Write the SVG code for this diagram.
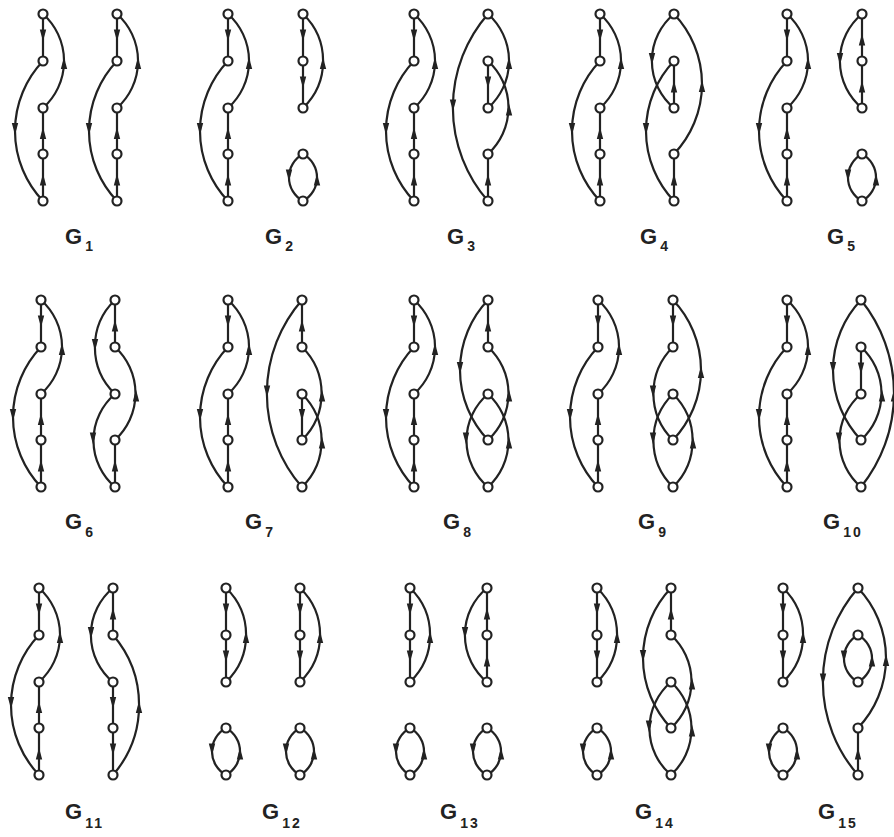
<svg xmlns="http://www.w3.org/2000/svg" width="894" height="837" viewBox="0 0 894 837">
<style>
.c{fill:none;stroke:#222;stroke-width:2.2}
.ah{fill:#222;stroke:none}
circle{fill:#fff;stroke:#222;stroke-width:2.2}
.lb{font-family:"Liberation Sans",Arial,sans-serif;font-weight:bold;font-size:22px;fill:#222}
.sb{font-size:14px;letter-spacing:2px}
</style>
<defs>
<path id="d" class="ah" d="M0,4L-3.2,-8H3.2Z"/>
<path id="u" class="ah" d="M0,-4L-3.2,8H3.2Z"/>
</defs>
<rect width="894" height="837" fill="#fff"/>

<!-- G1 -->
<g id="G1">
<g id="G1-edges" class="c">
<g transform="translate(43,14)"><path d="M0,0V47M0,94V187"/><path d="M0,0A63,63 0 0 1 0,94"/><path d="M0,47A101.5,101.5 0 0 0 0,187"/><use href="#d" y="23.5"/><use href="#u" y="117"/><use href="#u" y="163.5"/><use href="#u" x="21" y="47"/><use href="#d" x="-28" y="117"/></g>
<g transform="translate(117,14)"><path d="M0,0V47M0,94V187"/><path d="M0,0A63,63 0 0 1 0,94"/><path d="M0,47A101.5,101.5 0 0 0 0,187"/><use href="#d" y="23.5"/><use href="#u" y="117"/><use href="#u" y="163.5"/><use href="#u" x="21" y="47"/><use href="#d" x="-28" y="117"/></g>
</g>
<g id="G1-nodes">
<g transform="translate(43,14)"><g id="n1a0"><circle r="4.5"/></g><g id="n1a1"><circle cy="47" r="4.5"/></g><g id="n1a2"><circle cy="94" r="4.5"/></g><g id="n1a3"><circle cy="140" r="4.5"/></g><g id="n1a4"><circle cy="187" r="4.5"/></g></g>
<g transform="translate(117,14)"><g id="n1b0"><circle r="4.5"/></g><g id="n1b1"><circle cy="47" r="4.5"/></g><g id="n1b2"><circle cy="94" r="4.5"/></g><g id="n1b3"><circle cy="140" r="4.5"/></g><g id="n1b4"><circle cy="187" r="4.5"/></g></g>
</g>
<text class="lb" x="65" y="244">G<tspan class="sb" dx="3" dy="7">1</tspan></text>
</g>

<!-- G2 -->
<g id="G2">
<g id="G2-edges" class="c">
<g transform="translate(228,14)"><path d="M0,0V47M0,94V187"/><path d="M0,0A63,63 0 0 1 0,94"/><path d="M0,47A101.5,101.5 0 0 0 0,187"/><use href="#d" y="23.5"/><use href="#u" y="117"/><use href="#u" y="163.5"/><use href="#u" x="21" y="47"/><use href="#d" x="-28" y="117"/></g>
<g transform="translate(303,14)"><path d="M0,0V94"/><path d="M0,0A65,65 0 0 1 0,94"/><path d="M0,140A26.7,26.7 0 0 0 0,187A26.7,26.7 0 0 0 0,140Z"/><use href="#d" y="23.5"/><use href="#d" y="70.5"/><use href="#u" x="20" y="47"/><use href="#d" x="-14" y="163.5"/><use href="#u" x="14" y="163.5"/></g>
</g>
<g id="G2-nodes">
<g transform="translate(228,14)"><g id="n2a0"><circle r="4.5"/></g><g id="n2a1"><circle cy="47" r="4.5"/></g><g id="n2a2"><circle cy="94" r="4.5"/></g><g id="n2a3"><circle cy="140" r="4.5"/></g><g id="n2a4"><circle cy="187" r="4.5"/></g></g>
<g transform="translate(303,14)"><g id="n2b0"><circle r="4.5"/></g><g id="n2b1"><circle cy="47" r="4.5"/></g><g id="n2b2"><circle cy="94" r="4.5"/></g><g id="n2b3"><circle cy="140" r="4.5"/></g><g id="n2b4"><circle cy="187" r="4.5"/></g></g>
</g>
<text class="lb" x="265" y="244">G<tspan class="sb" dx="3" dy="7">2</tspan></text>
</g>

<!-- G3 -->
<g id="G3">
<g id="G3-edges" class="c">
<g transform="translate(414,14)"><path d="M0,0V47M0,94V187"/><path d="M0,0A63,63 0 0 1 0,94"/><path d="M0,47A101.5,101.5 0 0 0 0,187"/><use href="#d" y="23.5"/><use href="#u" y="117"/><use href="#u" y="163.5"/><use href="#u" x="21" y="47"/><use href="#d" x="-28" y="117"/></g>
<g transform="translate(488,14)"><path d="M0,47V94M0,140V187"/><path d="M0,0A142,142 0 0 0 0,187"/><path d="M0,0A63,63 0 0 1 0,94"/><path d="M0,47A63,63 0 0 1 0,140"/><use href="#d" x="-35" y="93.5"/><use href="#d" y="70.5"/><use href="#u" y="163.5"/><use href="#u" x="21" y="47"/><use href="#u" x="21" y="93.5"/></g>
</g>
<g id="G3-nodes">
<g transform="translate(414,14)"><g id="n3a0"><circle r="4.5"/></g><g id="n3a1"><circle cy="47" r="4.5"/></g><g id="n3a2"><circle cy="94" r="4.5"/></g><g id="n3a3"><circle cy="140" r="4.5"/></g><g id="n3a4"><circle cy="187" r="4.5"/></g></g>
<g transform="translate(488,14)"><g id="n3b0"><circle r="4.5"/></g><g id="n3b1"><circle cy="47" r="4.5"/></g><g id="n3b2"><circle cy="94" r="4.5"/></g><g id="n3b3"><circle cy="140" r="4.5"/></g><g id="n3b4"><circle cy="187" r="4.5"/></g></g>
</g>
<text class="lb" x="447" y="244">G<tspan class="sb" dx="3" dy="7">3</tspan></text>
</g>

<!-- G4 -->
<g id="G4">
<g id="G4-edges" class="c">
<g transform="translate(600,14)"><path d="M0,0V47M0,94V187"/><path d="M0,0A63,63 0 0 1 0,94"/><path d="M0,47A101.5,101.5 0 0 0 0,187"/><use href="#d" y="23.5"/><use href="#u" y="117"/><use href="#u" y="163.5"/><use href="#u" x="21" y="47"/><use href="#d" x="-28" y="117"/></g>
<g transform="translate(674,14)"><path d="M0,47V94M0,140V187"/><path d="M0,0A61,61 0 0 0 0,94"/><path d="M0,47A101.5,101.5 0 0 0 0,187"/><path d="M0,0A101.5,101.5 0 0 1 0,140"/><use href="#d" x="-22" y="47"/><use href="#u" y="70.5"/><use href="#d" x="-28" y="117"/><use href="#u" y="163.5"/><use href="#u" x="28" y="70"/></g>
</g>
<g id="G4-nodes">
<g transform="translate(600,14)"><g id="n4a0"><circle r="4.5"/></g><g id="n4a1"><circle cy="47" r="4.5"/></g><g id="n4a2"><circle cy="94" r="4.5"/></g><g id="n4a3"><circle cy="140" r="4.5"/></g><g id="n4a4"><circle cy="187" r="4.5"/></g></g>
<g transform="translate(674,14)"><g id="n4b0"><circle r="4.5"/></g><g id="n4b1"><circle cy="47" r="4.5"/></g><g id="n4b2"><circle cy="94" r="4.5"/></g><g id="n4b3"><circle cy="140" r="4.5"/></g><g id="n4b4"><circle cy="187" r="4.5"/></g></g>
</g>
<text class="lb" x="640" y="244">G<tspan class="sb" dx="3" dy="7">4</tspan></text>
</g>

<!-- G5 -->
<g id="G5">
<g id="G5-edges" class="c">
<g transform="translate(787,14)"><path d="M0,0V47M0,94V187"/><path d="M0,0A63,63 0 0 1 0,94"/><path d="M0,47A101.5,101.5 0 0 0 0,187"/><use href="#d" y="23.5"/><use href="#u" y="117"/><use href="#u" y="163.5"/><use href="#u" x="21" y="47"/><use href="#d" x="-28" y="117"/></g>
<g transform="translate(862,14)"><path d="M0,0V94"/><path d="M0,0A61,61 0 0 0 0,94"/><path d="M0,140A26.7,26.7 0 0 0 0,187A26.7,26.7 0 0 0 0,140Z"/><use href="#u" y="23.5"/><use href="#u" y="70.5"/><use href="#d" x="-22" y="47"/><use href="#d" x="-14" y="163.5"/><use href="#u" x="14" y="163.5"/></g>
</g>
<g id="G5-nodes">
<g transform="translate(787,14)"><g id="n5a0"><circle r="4.5"/></g><g id="n5a1"><circle cy="47" r="4.5"/></g><g id="n5a2"><circle cy="94" r="4.5"/></g><g id="n5a3"><circle cy="140" r="4.5"/></g><g id="n5a4"><circle cy="187" r="4.5"/></g></g>
<g transform="translate(862,14)"><g id="n5b0"><circle r="4.5"/></g><g id="n5b1"><circle cy="47" r="4.5"/></g><g id="n5b2"><circle cy="94" r="4.5"/></g><g id="n5b3"><circle cy="140" r="4.5"/></g><g id="n5b4"><circle cy="187" r="4.5"/></g></g>
</g>
<text class="lb" x="827" y="244">G<tspan class="sb" dx="3" dy="7">5</tspan></text>
</g>

<!-- G6 -->
<g id="G6">
<g id="G6-edges" class="c">
<g transform="translate(41,300)"><path d="M0,0V47M0,94V187"/><path d="M0,0A63,63 0 0 1 0,94"/><path d="M0,47A101.5,101.5 0 0 0 0,187"/><use href="#d" y="23.5"/><use href="#u" y="117"/><use href="#u" y="163.5"/><use href="#u" x="21" y="47"/><use href="#d" x="-28" y="117"/></g>
<g transform="translate(115,300)"><path d="M0,0V47M0,140V187"/><path d="M0,0A65,65 0 0 0 0,94"/><path d="M0,47A63,63 0 0 1 0,140"/><path d="M0,94A61,61 0 0 0 0,187"/><use href="#u" y="23.5"/><use href="#d" x="-20" y="47"/><use href="#u" x="21" y="93.5"/><use href="#d" x="-22" y="140.5"/><use href="#u" y="163.5"/></g>
</g>
<g id="G6-nodes">
<g transform="translate(41,300)"><g id="n6a0"><circle r="4.5"/></g><g id="n6a1"><circle cy="47" r="4.5"/></g><g id="n6a2"><circle cy="94" r="4.5"/></g><g id="n6a3"><circle cy="140" r="4.5"/></g><g id="n6a4"><circle cy="187" r="4.5"/></g></g>
<g transform="translate(115,300)"><g id="n6b0"><circle r="4.5"/></g><g id="n6b1"><circle cy="47" r="4.5"/></g><g id="n6b2"><circle cy="94" r="4.5"/></g><g id="n6b3"><circle cy="140" r="4.5"/></g><g id="n6b4"><circle cy="187" r="4.5"/></g></g>
</g>
<text class="lb" x="65" y="529">G<tspan class="sb" dx="3" dy="8">6</tspan></text>
</g>

<!-- G7 -->
<g id="G7">
<g id="G7-edges" class="c">
<g transform="translate(228,300)"><path d="M0,0V47M0,94V187"/><path d="M0,0A63,63 0 0 1 0,94"/><path d="M0,47A101.5,101.5 0 0 0 0,187"/><use href="#d" y="23.5"/><use href="#u" y="117"/><use href="#u" y="163.5"/><use href="#u" x="21" y="47"/><use href="#d" x="-28" y="117"/></g>
<g transform="translate(302,300)"><path d="M0,0V47M0,94V140"/><path d="M0,0A142,142 0 0 0 0,187"/><path d="M0,47A65,65 0 0 1 0,140"/><path d="M0,94A65,65 0 0 1 0,187"/><use href="#u" y="23.5"/><use href="#d" x="-35" y="93.5"/><use href="#d" y="117"/><use href="#u" x="20" y="93.5"/><use href="#u" x="20" y="140.5"/></g>
</g>
<g id="G7-nodes">
<g transform="translate(228,300)"><g id="n7a0"><circle r="4.5"/></g><g id="n7a1"><circle cy="47" r="4.5"/></g><g id="n7a2"><circle cy="94" r="4.5"/></g><g id="n7a3"><circle cy="140" r="4.5"/></g><g id="n7a4"><circle cy="187" r="4.5"/></g></g>
<g transform="translate(302,300)"><g id="n7b0"><circle r="4.5"/></g><g id="n7b1"><circle cy="47" r="4.5"/></g><g id="n7b2"><circle cy="94" r="4.5"/></g><g id="n7b3"><circle cy="140" r="4.5"/></g><g id="n7b4"><circle cy="187" r="4.5"/></g></g>
</g>
<text class="lb" x="245" y="529">G<tspan class="sb" dx="3" dy="8">7</tspan></text>
</g>

<!-- G8 -->
<g id="G8">
<g id="G8-edges" class="c">
<g transform="translate(414,300)"><path d="M0,0V47M0,94V187"/><path d="M0,0A63,63 0 0 1 0,94"/><path d="M0,47A101.5,101.5 0 0 0 0,187"/><use href="#d" y="23.5"/><use href="#u" y="117"/><use href="#u" y="163.5"/><use href="#u" x="21" y="47"/><use href="#d" x="-28" y="117"/></g>
<g transform="translate(488,300)"><path d="M0,0V47"/><path d="M0,0A101.5,101.5 0 0 0 0,140"/><path d="M0,47A63,63 0 0 1 0,140"/><path d="M0,94A61,61 0 0 0 0,187"/><path d="M0,94A63,63 0 0 1 0,187"/><use href="#u" y="23.5"/><use href="#d" x="-28" y="70"/><use href="#u" x="21" y="93.5"/><use href="#d" x="-22" y="140.5"/><use href="#u" x="21" y="140.5"/></g>
</g>
<g id="G8-nodes">
<g transform="translate(414,300)"><g id="n8a0"><circle r="4.5"/></g><g id="n8a1"><circle cy="47" r="4.5"/></g><g id="n8a2"><circle cy="94" r="4.5"/></g><g id="n8a3"><circle cy="140" r="4.5"/></g><g id="n8a4"><circle cy="187" r="4.5"/></g></g>
<g transform="translate(488,300)"><g id="n8b0"><circle r="4.5"/></g><g id="n8b1"><circle cy="47" r="4.5"/></g><g id="n8b2"><circle cy="94" r="4.5"/></g><g id="n8b3"><circle cy="140" r="4.5"/></g><g id="n8b4"><circle cy="187" r="4.5"/></g></g>
</g>
<text class="lb" x="443" y="529">G<tspan class="sb" dx="3" dy="8">8</tspan></text>
</g>

<!-- G9 -->
<g id="G9">
<g id="G9-edges" class="c">
<g transform="translate(598,300)"><path d="M0,0V47M0,94V187"/><path d="M0,0A63,63 0 0 1 0,94"/><path d="M0,47A101.5,101.5 0 0 0 0,187"/><use href="#d" y="23.5"/><use href="#u" y="117"/><use href="#u" y="163.5"/><use href="#u" x="21" y="47"/><use href="#d" x="-28" y="117"/></g>
<g transform="translate(673,300)"><path d="M0,0V47"/><path d="M0,47A65,65 0 0 0 0,140"/><path d="M0,0A101.5,101.5 0 0 1 0,140"/><path d="M0,94A65,65 0 0 0 0,187"/><path d="M0,94A65,65 0 0 1 0,187"/><use href="#d" y="23.5"/><use href="#d" x="-20" y="93.5"/><use href="#u" x="28" y="70"/><use href="#d" x="-20" y="140.5"/><use href="#u" x="20" y="140.5"/></g>
</g>
<g id="G9-nodes">
<g transform="translate(598,300)"><g id="n9a0"><circle r="4.5"/></g><g id="n9a1"><circle cy="47" r="4.5"/></g><g id="n9a2"><circle cy="94" r="4.5"/></g><g id="n9a3"><circle cy="140" r="4.5"/></g><g id="n9a4"><circle cy="187" r="4.5"/></g></g>
<g transform="translate(673,300)"><g id="n9b0"><circle r="4.5"/></g><g id="n9b1"><circle cy="47" r="4.5"/></g><g id="n9b2"><circle cy="94" r="4.5"/></g><g id="n9b3"><circle cy="140" r="4.5"/></g><g id="n9b4"><circle cy="187" r="4.5"/></g></g>
</g>
<text class="lb" x="638" y="529">G<tspan class="sb" dx="3" dy="8">9</tspan></text>
</g>

<!-- G10 -->
<g id="G10">
<g id="G10-edges" class="c">
<g transform="translate(787,300)"><path d="M0,0V47M0,94V187"/><path d="M0,0A63,63 0 0 1 0,94"/><path d="M0,47A101.5,101.5 0 0 0 0,187"/><use href="#d" y="23.5"/><use href="#u" y="117"/><use href="#u" y="163.5"/><use href="#u" x="21" y="47"/><use href="#d" x="-28" y="117"/></g>
<g transform="translate(861,300)"><path d="M0,47V94"/><path d="M0,0A101.5,101.5 0 0 0 0,140"/><path d="M0,47A63,63 0 0 1 0,140"/><path d="M0,94A61,61 0 0 0 0,187"/><path d="M0,0A149,149 0 0 1 0,187"/><use href="#d" x="-28" y="70"/><use href="#d" y="70.5"/><use href="#u" x="21" y="93.5"/><use href="#d" x="-22" y="140.5"/><use href="#u" x="33" y="93.5"/></g>
</g>
<g id="G10-nodes">
<g transform="translate(787,300)"><g id="n10a0"><circle r="4.5"/></g><g id="n10a1"><circle cy="47" r="4.5"/></g><g id="n10a2"><circle cy="94" r="4.5"/></g><g id="n10a3"><circle cy="140" r="4.5"/></g><g id="n10a4"><circle cy="187" r="4.5"/></g></g>
<g transform="translate(861,300)"><g id="n10b0"><circle r="4.5"/></g><g id="n10b1"><circle cy="47" r="4.5"/></g><g id="n10b2"><circle cy="94" r="4.5"/></g><g id="n10b3"><circle cy="140" r="4.5"/></g><g id="n10b4"><circle cy="187" r="4.5"/></g></g>
</g>
<text class="lb" x="823" y="529">G<tspan class="sb" dx="3" dy="8">10</tspan></text>
</g>

<!-- G11 -->
<g id="G11">
<g id="G11-edges" class="c">
<g transform="translate(39,588)"><path d="M0,0V47M0,94V187"/><path d="M0,0A63,63 0 0 1 0,94"/><path d="M0,47A101.5,101.5 0 0 0 0,187"/><use href="#d" y="23.5"/><use href="#u" y="117"/><use href="#u" y="163.5"/><use href="#u" x="21" y="47"/><use href="#d" x="-28" y="117"/></g>
<g transform="translate(113,588)"><path d="M0,0V47M0,94V187"/><path d="M0,0A61,61 0 0 0 0,94"/><path d="M0,47A107,107 0 0 1 0,187"/><use href="#u" y="23.5"/><use href="#d" x="-22" y="47"/><use href="#d" y="117"/><use href="#d" y="163.5"/><use href="#u" x="26" y="117"/></g>
</g>
<g id="G11-nodes">
<g transform="translate(39,588)"><g id="n11a0"><circle r="4.5"/></g><g id="n11a1"><circle cy="47" r="4.5"/></g><g id="n11a2"><circle cy="94" r="4.5"/></g><g id="n11a3"><circle cy="140" r="4.5"/></g><g id="n11a4"><circle cy="187" r="4.5"/></g></g>
<g transform="translate(113,588)"><g id="n11b0"><circle r="4.5"/></g><g id="n11b1"><circle cy="47" r="4.5"/></g><g id="n11b2"><circle cy="94" r="4.5"/></g><g id="n11b3"><circle cy="140" r="4.5"/></g><g id="n11b4"><circle cy="187" r="4.5"/></g></g>
</g>
<text class="lb" x="65" y="819">G<tspan class="sb" dx="3" dy="9">11</tspan></text>
</g>

<!-- G12 -->
<g id="G12">
<g id="G12-edges" class="c">
<g transform="translate(226,588)"><path d="M0,0V94"/><path d="M0,0A65,65 0 0 1 0,94"/><path d="M0,140A26.7,26.7 0 0 0 0,187A26.7,26.7 0 0 0 0,140Z"/><use href="#d" y="23.5"/><use href="#d" y="70.5"/><use href="#u" x="20" y="47"/><use href="#d" x="-14" y="163.5"/><use href="#u" x="14" y="163.5"/></g>
<g transform="translate(300,588)"><path d="M0,0V94"/><path d="M0,0A65,65 0 0 1 0,94"/><path d="M0,140A26.7,26.7 0 0 0 0,187A26.7,26.7 0 0 0 0,140Z"/><use href="#d" y="23.5"/><use href="#d" y="70.5"/><use href="#u" x="20" y="47"/><use href="#d" x="-14" y="163.5"/><use href="#u" x="14" y="163.5"/></g>
</g>
<g id="G12-nodes">
<g transform="translate(226,588)"><g id="n12a0"><circle r="4.5"/></g><g id="n12a1"><circle cy="47" r="4.5"/></g><g id="n12a2"><circle cy="94" r="4.5"/></g><g id="n12a3"><circle cy="140" r="4.5"/></g><g id="n12a4"><circle cy="187" r="4.5"/></g></g>
<g transform="translate(300,588)"><g id="n12b0"><circle r="4.5"/></g><g id="n12b1"><circle cy="47" r="4.5"/></g><g id="n12b2"><circle cy="94" r="4.5"/></g><g id="n12b3"><circle cy="140" r="4.5"/></g><g id="n12b4"><circle cy="187" r="4.5"/></g></g>
</g>
<text class="lb" x="262" y="819">G<tspan class="sb" dx="3" dy="9">12</tspan></text>
</g>

<!-- G13 -->
<g id="G13">
<g id="G13-edges" class="c">
<g transform="translate(410,588)"><path d="M0,0V94"/><path d="M0,0A65,65 0 0 1 0,94"/><path d="M0,140A26.7,26.7 0 0 0 0,187A26.7,26.7 0 0 0 0,140Z"/><use href="#d" y="23.5"/><use href="#d" y="70.5"/><use href="#u" x="20" y="47"/><use href="#d" x="-14" y="163.5"/><use href="#u" x="14" y="163.5"/></g>
<g transform="translate(487,588)"><path d="M0,0V94"/><path d="M0,0A61,61 0 0 0 0,94"/><path d="M0,140A26.7,26.7 0 0 0 0,187A26.7,26.7 0 0 0 0,140Z"/><use href="#u" y="23.5"/><use href="#u" y="70.5"/><use href="#d" x="-22" y="47"/><use href="#d" x="-14" y="163.5"/><use href="#u" x="14" y="163.5"/></g>
</g>
<g id="G13-nodes">
<g transform="translate(410,588)"><g id="n13a0"><circle r="4.5"/></g><g id="n13a1"><circle cy="47" r="4.5"/></g><g id="n13a2"><circle cy="94" r="4.5"/></g><g id="n13a3"><circle cy="140" r="4.5"/></g><g id="n13a4"><circle cy="187" r="4.5"/></g></g>
<g transform="translate(487,588)"><g id="n13b0"><circle r="4.5"/></g><g id="n13b1"><circle cy="47" r="4.5"/></g><g id="n13b2"><circle cy="94" r="4.5"/></g><g id="n13b3"><circle cy="140" r="4.5"/></g><g id="n13b4"><circle cy="187" r="4.5"/></g></g>
</g>
<text class="lb" x="440" y="819">G<tspan class="sb" dx="3" dy="9">13</tspan></text>
</g>

<!-- G14 -->
<g id="G14">
<g id="G14-edges" class="c">
<g transform="translate(597,588)"><path d="M0,0V94"/><path d="M0,0A65,65 0 0 1 0,94"/><path d="M0,140A26.7,26.7 0 0 0 0,187A26.7,26.7 0 0 0 0,140Z"/><use href="#d" y="23.5"/><use href="#d" y="70.5"/><use href="#u" x="20" y="47"/><use href="#d" x="-14" y="163.5"/><use href="#u" x="14" y="163.5"/></g>
<g transform="translate(671,588)"><path d="M0,0V47"/><path d="M0,0A101.5,101.5 0 0 0 0,140"/><path d="M0,47A63,63 0 0 1 0,140"/><path d="M0,94A61,61 0 0 0 0,187"/><path d="M0,94A63,63 0 0 1 0,187"/><use href="#u" y="23.5"/><use href="#d" x="-28" y="70"/><use href="#u" x="21" y="93.5"/><use href="#d" x="-22" y="140.5"/><use href="#u" x="21" y="140.5"/></g>
</g>
<g id="G14-nodes">
<g transform="translate(597,588)"><g id="n14a0"><circle r="4.5"/></g><g id="n14a1"><circle cy="47" r="4.5"/></g><g id="n14a2"><circle cy="94" r="4.5"/></g><g id="n14a3"><circle cy="140" r="4.5"/></g><g id="n14a4"><circle cy="187" r="4.5"/></g></g>
<g transform="translate(671,588)"><g id="n14b0"><circle r="4.5"/></g><g id="n14b1"><circle cy="47" r="4.5"/></g><g id="n14b2"><circle cy="94" r="4.5"/></g><g id="n14b3"><circle cy="140" r="4.5"/></g><g id="n14b4"><circle cy="187" r="4.5"/></g></g>
</g>
<text class="lb" x="635" y="819">G<tspan class="sb" dx="3" dy="9">14</tspan></text>
</g>

<!-- G15 -->
<g id="G15">
<g id="G15-edges" class="c">
<g transform="translate(783,588)"><path d="M0,0V94"/><path d="M0,0A65,65 0 0 1 0,94"/><path d="M0,140A26.7,26.7 0 0 0 0,187A26.7,26.7 0 0 0 0,140Z"/><use href="#d" y="23.5"/><use href="#d" y="70.5"/><use href="#u" x="20" y="47"/><use href="#d" x="-14" y="163.5"/><use href="#u" x="14" y="163.5"/></g>
<g transform="translate(858,588)"><path d="M0,140V187"/><path d="M0,0A142,142 0 0 0 0,187"/><path d="M0,0A101.5,101.5 0 0 1 0,140"/><path d="M0,47A26.7,26.7 0 0 0 0,94A26.7,26.7 0 0 0 0,47Z"/><use href="#d" x="-35" y="93.5"/><use href="#u" y="163.5"/><use href="#u" x="28" y="70"/><use href="#d" x="-14" y="70.5"/><use href="#u" x="14" y="70.5"/></g>
</g>
<g id="G15-nodes">
<g transform="translate(783,588)"><g id="n15a0"><circle r="4.5"/></g><g id="n15a1"><circle cy="47" r="4.5"/></g><g id="n15a2"><circle cy="94" r="4.5"/></g><g id="n15a3"><circle cy="140" r="4.5"/></g><g id="n15a4"><circle cy="187" r="4.5"/></g></g>
<g transform="translate(858,588)"><g id="n15b0"><circle r="4.5"/></g><g id="n15b1"><circle cy="47" r="4.5"/></g><g id="n15b2"><circle cy="94" r="4.5"/></g><g id="n15b3"><circle cy="140" r="4.5"/></g><g id="n15b4"><circle cy="187" r="4.5"/></g></g>
</g>
<text class="lb" x="818" y="819">G<tspan class="sb" dx="3" dy="9">15</tspan></text>
</g>
</svg>
